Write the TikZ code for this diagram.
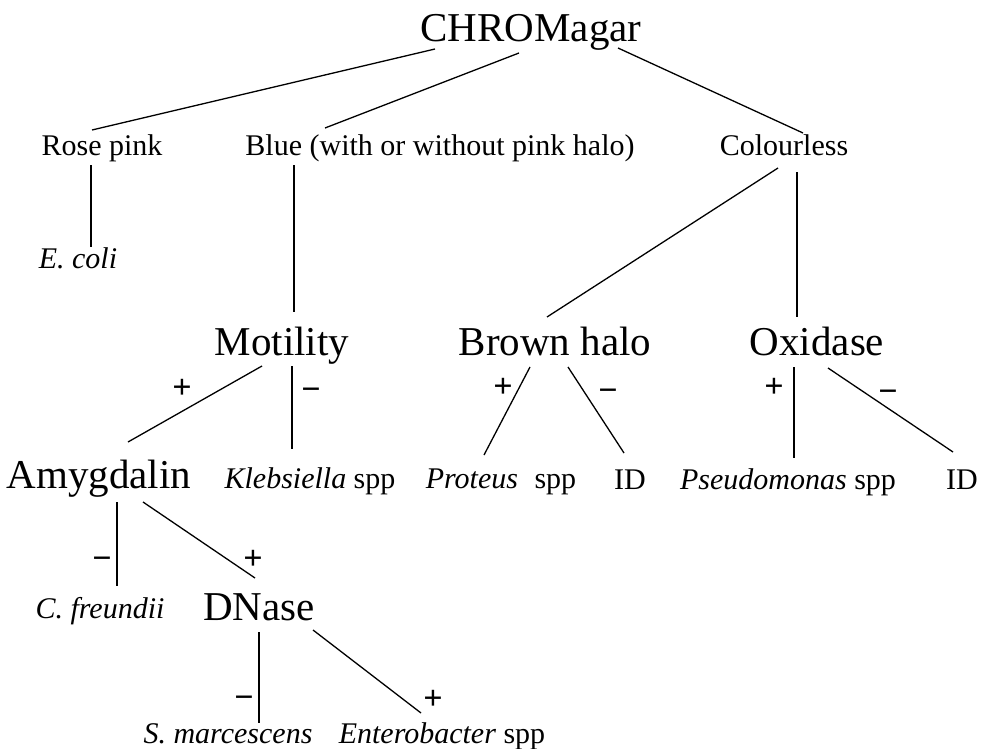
\documentclass[tikz,border=0pt]{standalone}
\usepackage{fontspec}
\setmainfont{Liberation Serif}
\begin{document}
\begin{tikzpicture}[x=1pt,y=-1pt,
  big/.style={font=\fontsize{41}{48}\selectfont,anchor=base,inner sep=0pt},
  small/.style={font=\fontsize{30}{36}\selectfont,anchor=base,inner sep=0pt},
  sign/.style={font=\fontsize{34}{40}\selectfont\bfseries,anchor=base,inner sep=0pt},
  conn/.style={line width=1.3pt,black}]
\useasboundingbox (0,0) rectangle (982,749);
% nodes (placed at baseline)
\node[big]   (chrom)  at (531,42)  {CHROMagar};
\node[small] (rose)   at (102,155) {Rose pink};
\node[small] (blue)   at (440,155) {Blue (with or without pink halo)};
\node[small] (colour) at (784,155) {Colourless};
\node[small] (ecoli)  at (78,268)  {\textit{E. coli}};
\node[big]   (mot)    at (282,355) {Motility};
\node[big]   (brown)  at (555,355) {Brown halo};
\node[big]   (ox)     at (817,355) {Oxidase};
\node[big]   (amyg)   at (99,488)  {Amygdalin};
\node[small] (kleb)   at (310,488) {\textit{Klebsiella} spp};
\node[small] (prot)   at (501,488) {\textit{Proteus}\hspace{0.55em}spp};
\node[small] (idA)    at (630,489) {ID};
\node[small] (pseudo) at (788,489) {\textit{Pseudomonas} spp};
\node[small] (idB)    at (962,489) {ID};
\node[small] (cfr)    at (100,618) {\textit{C. freundii}};
\node[big]   (dnase)  at (259,620) {DNase};
\node[small] (smarc)  at (228,743) {\textit{S. marcescens}};
\node[small] (entero) at (442,743) {\textit{Enterobacter} spp};
% signs
\node[sign] (mp) at (182,398) {+};
\node[sign] (mm) at (311,400) {−};
\node[sign] (bp) at (503,397) {+};
\node[sign] (bm) at (608,401) {−};
\node[sign] (op) at (774,397) {+};
\node[sign] (om) at (888,402) {−};
\node[sign] (am) at (102,569) {−};
\node[sign] (ap) at (253,569) {+};
\node[sign] (dm) at (244,708) {−};
\node[sign] (dp) at (433,709) {+};
% connectors
\draw[conn] ([shift={(-96,7)}]chrom.base) -- ([shift={(-10,-25)}]rose.base);
\draw[conn] ([shift={(-12,11)}]chrom.base) -- ([shift={(-115,-27)}]blue.base);
\draw[conn] ([shift={(87,6)}]chrom.base) -- ([shift={(19,-22)}]colour.base);
\draw[conn] ([shift={(-11,10)}]rose.base) -- ([shift={(13,-21)}]ecoli.base);
\draw[conn] ([shift={(-146,10)}]blue.base) -- ([shift={(12,-43)}]mot.base);
\draw[conn] ([shift={(-6,13)}]colour.base) -- ([shift={(-8,-38)}]brown.base);
\draw[conn] ([shift={(13,17)}]colour.base) -- ([shift={(-20,-38)}]ox.base);
\draw[conn] ([shift={(-20,11)}]mot.base) -- ([shift={(29,-46)}]amyg.base);
\draw[conn] ([shift={(10,11)}]mot.base) -- ([shift={(-18,-39)}]kleb.base);
\draw[conn] ([shift={(-25,12)}]brown.base) -- ([shift={(-17,-33)}]prot.base);
\draw[conn] ([shift={(13,12)}]brown.base) -- ([shift={(-6,-36)}]idA.base);
\draw[conn] ([shift={(-23,12)}]ox.base) -- ([shift={(6,-31)}]pseudo.base);
\draw[conn] ([shift={(11,13)}]ox.base) -- ([shift={(-9,-37)}]idB.base);
\draw[conn] ([shift={(18,14)}]amyg.base) -- ([shift={(17,-32)}]cfr.base);
\draw[conn] ([shift={(44,14)}]amyg.base) -- ([shift={(-4,-42)}]dnase.base);
\draw[conn] ([shift={(0,12)}]dnase.base) -- ([shift={(31,-20)}]smarc.base);
\draw[conn] ([shift={(54,10)}]dnase.base) -- ([shift={(-21,-30)}]entero.base);
\end{tikzpicture}
\end{document}
